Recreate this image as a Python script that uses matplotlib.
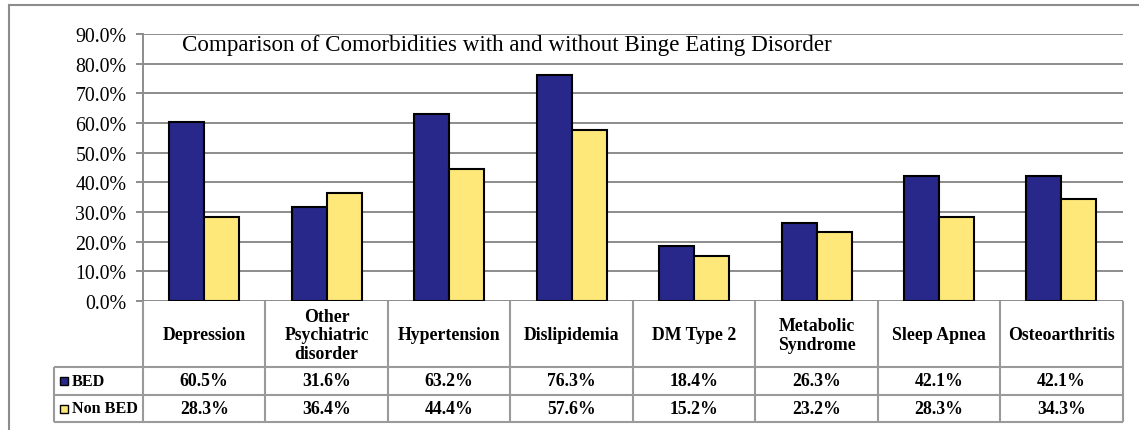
import matplotlib
matplotlib.use("Agg")
import matplotlib.pyplot as plt
import numpy as np

categories = ["Depression", "Other\nPsychiatric\ndisorder", "Hypertension", "Dislipidemia",
              "DM Type 2", "Metabolic\nSyndrome", "Sleep Apnea", "Osteoarthritis"]
series_names = ["BED", "Non BED"]
bed = [60.5, 31.6, 63.2, 76.3, 18.4, 26.3, 42.1, 42.1]
non_bed = [28.3, 36.4, 44.4, 57.6, 15.2, 23.2, 28.3, 34.3]
yticks = [0, 10, 20, 30, 40, 50, 60, 70, 80, 90]
title = "Comparison of Comorbidities with and without Binge Eating Disorder"

NAVY = "#27288A"
YELLOW = "#FFE87A"
GRID = "#8C8C8C"
TGRID = "#9A9A9A"
FONT = "Liberation Serif"

W, H = 1139, 431
fig = plt.figure(figsize=(W / 100, H / 100), dpi=100)

def fr(x0, y0, x1, y1):
    return [x0 / W, 1 - y1 / H, (x1 - x0) / W, (y1 - y0) / H]

# outer border (top and left only visible)
fig.add_artist(plt.Line2D([9 / W, 1.0], [1 - 6 / H, 1 - 6 / H], color=GRID, lw=1.5))
fig.add_artist(plt.Line2D([9 / W, 9 / W], [1 - 6 / H, 0], color=GRID, lw=1.5))

ax = fig.add_axes(fr(143, 35, 1122.7, 302))
n = len(categories)
x = np.arange(n) + 0.5
bw = 0.286
ax.bar(x - bw / 2, bed, width=bw, color=NAVY, edgecolor="black", linewidth=1.5, zorder=3)
ax.bar(x + bw / 2, non_bed, width=bw, color=YELLOW, edgecolor="black", linewidth=1.5, zorder=3)
ax.set_xlim(0, n)
ax.set_ylim(0, 90)
ax.set_yticks(yticks)
ax.set_yticklabels([f"{v:.1f}%" for v in yticks], fontfamily=FONT, fontsize=14.3)
ax.set_xticks([])
ax.yaxis.grid(True, color=GRID, linewidth=1.4)
ax.set_axisbelow(True)
for s in ["top", "right", "bottom"]:
    ax.spines[s].set_visible(False)
ax.spines["left"].set_color(GRID)
ax.spines["left"].set_linewidth(1.4)
ax.tick_params(axis="y", length=5, width=1.4, color=GRID, pad=7)
ax.patch.set_alpha(0)

# title: fit to measured width in the reference
t = fig.text(182 / W, 1 - 46 / H, title, fontfamily=FONT, fontsize=18,
             ha="left", va="center")
fig.canvas.draw()
wpx = t.get_window_extent().width
t.set_fontsize(18 * 650 / wpx)

# data table
tax = fig.add_axes(fr(54, 302, 1122.7, 423))
leg_left = (54 - 143) / ((1122.7 - 143) / n)
tax.set_xlim(leg_left, n)
tax.set_ylim(121, 0)
tax.axis("off")
hdr, r1, r2 = 66, 94, 121
lw = 1.5
for i in range(n + 1):
    tax.plot([i, i], [0, r2], color=TGRID, lw=lw, clip_on=False, solid_capstyle="butt")
tax.plot([leg_left, leg_left], [hdr, r2], color=TGRID, lw=lw, clip_on=False, solid_capstyle="butt")
for yy in [hdr, r1, r2]:
    tax.plot([leg_left, n], [yy, yy], color=TGRID, lw=lw, clip_on=False, solid_capstyle="butt")

for i, c in enumerate(categories):
    tax.text(i + 0.5, hdr / 2 + 1, c, ha="center", va="center", fontfamily=FONT,
             fontweight="bold", fontsize=12.8, linespacing=1.12)
for vals, yc in [(bed, (hdr + r1) / 2), (non_bed, (r1 + r2) / 2)]:
    for i, v in enumerate(vals):
        tax.text(i + 0.5, yc, f"{v:.1f}%", ha="center", va="center", fontfamily=FONT,
                 fontweight="bold", fontsize=12.8)

unit = (1122.7 - 143) / n
mx = (64 - 143) / unit
tx = (72 - 143) / unit
for name, col, yc in [(series_names[0], NAVY, (hdr + r1) / 2), (series_names[1], YELLOW, (r1 + r2) / 2)]:
    tax.plot([mx], [yc], marker="s", markersize=6, markerfacecolor=col,
             markeredgecolor="black", markeredgewidth=1, clip_on=False)
    tax.text(tx, yc, name, ha="left", va="center", fontfamily=FONT,
             fontweight="bold", fontsize=11.6)

fig.savefig("out.png", dpi=100)
